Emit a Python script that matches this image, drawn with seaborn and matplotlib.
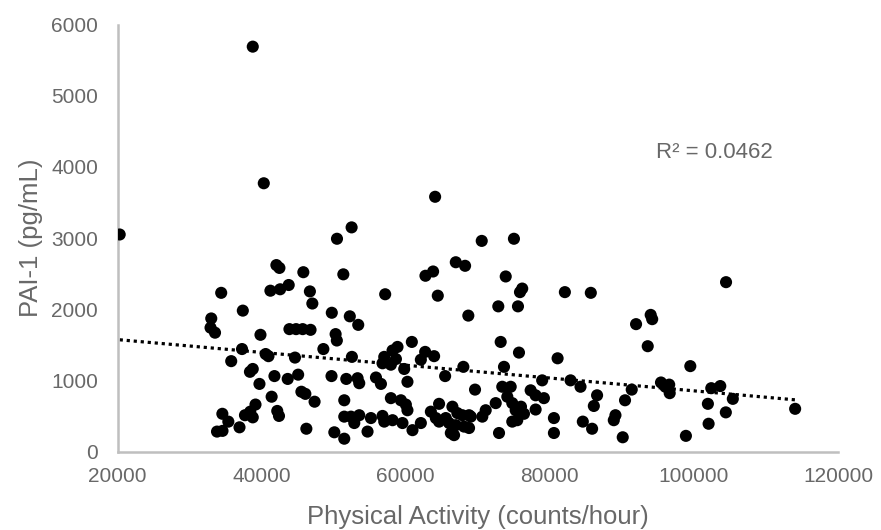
import numpy as np
import pandas as pd
import matplotlib
matplotlib.use("Agg")
import matplotlib.pyplot as plt
import seaborn as sns

# Physical activity (counts/hour)
activity = [
    42050, 42470, 45790, 51340, 34390, 41220, 42570, 43760, 46700, 47040,
    37390, 49740, 52240, 33010, 32910, 33530, 39840, 43860, 44780, 45700,
    46790, 50270, 50440, 37280, 35780, 40560, 40950, 44630, 48570, 38770,
    38380, 41780, 43620, 45070, 49700, 51750, 39700, 45520, 46070, 47350,
    41390, 51470, 39150, 38420, 37690, 38770, 42170, 42410, 34550, 35380,
    33810, 34570, 36930, 46210, 51470, 50090, 51470,
    66950, 68240, 62740, 63800, 73880, 57150, 64450, 72850, 75580, 68690,
    73180, 75720, 73640, 60850, 58860, 58170, 57020, 56780, 58640, 57940,
    52530, 62700, 63940, 62100, 59790, 60240, 68000, 65470, 53320, 53550,
    55870, 56560, 69620, 73400, 74570, 74100, 74790, 75260, 57940, 59330,
    60020, 60240, 72490, 71100, 70630, 64630, 63490, 64180, 64630, 66480,
    67170, 67860, 68790, 69030, 65560, 66020, 66950, 68100, 68790, 66260,
    66710, 53550, 52400, 52860, 55170, 56780, 57020, 58170, 59550, 60940,
    62100, 54700, 72950, 74790, 75480, 64080, 50460, 52490, 70550, 75020,
    53410,
    76170, 75860, 82090, 85690, 91970, 94000, 94210, 93590, 81080, 78940,
    82880, 84260, 86560, 86110, 90440, 91370, 95430, 96570, 96640, 96040,
    77340, 78030, 79180, 76000, 76410, 78030, 80570, 80570, 84580, 85870,
    89110, 88880, 90120,
    104460, 99500, 102410, 103660, 101940, 105400, 104430, 102040, 98890, 114050,
    38770, 40300, 20300,
]

# PAI-1 (pg/mL)
pai1 = [
    2620, 2580, 2520, 2490, 2230, 2260, 2280, 2340, 2250, 2080,
    1980, 1950, 1900, 1870, 1740, 1670, 1640, 1720, 1720, 1720,
    1710, 1650, 1560, 1440, 1270, 1370, 1340, 1320, 1440, 1160,
    1120, 1060, 1020, 1080, 1060, 1020, 950, 840, 810, 700,
    770, 720, 660, 560, 510, 480, 570, 500, 530, 420,
    280, 290, 340, 320, 490, 270, 180,
    2660, 2610, 2470, 2530, 2460, 2210, 2190, 2040, 2040, 1910,
    1540, 1390, 1190, 1540, 1470, 1420, 1330, 1240, 1300, 1220,
    1330, 1400, 1340, 1290, 1160, 980, 1190, 1060, 1030, 960,
    1040, 950, 870, 910, 910, 770, 680, 580, 750, 720,
    660, 580, 680, 580, 490, 670, 560, 470, 420, 630,
    540, 510, 510, 490, 470, 400, 370, 350, 330, 260,
    230, 510, 490, 400, 470, 500, 420, 440, 400, 300,
    400, 280, 260, 420, 440, 3580, 2990, 3150, 2960, 2990,
    1780,
    2290, 2240, 2240, 2230, 1790, 1920, 1860, 1480, 1310, 1000,
    1000, 910, 790, 640, 720, 870, 970, 940, 820, 910,
    860, 790, 750, 630, 530, 590, 470, 260, 420, 320,
    510, 440, 200,
    2380, 1200, 890, 920, 670, 740, 550, 390, 220, 600,
    5690, 3770, 3050,
]

x_ticks = [20000, 40000, 60000, 80000, 100000, 120000]
y_ticks = [0, 1000, 2000, 3000, 4000, 5000, 6000]
r2_label = "R² = 0.0462"
x_title = "Physical Activity (counts/hour)"
y_title = "PAI-1 (pg/mL)"

df = pd.DataFrame({"activity": activity, "pai1": pai1})

sns.set_style("white")
plt.rcParams["font.family"] = ["Liberation Sans", "DejaVu Sans"]

fig = plt.figure(figsize=(8.81, 5.30), dpi=100)
ax = fig.add_axes([0.1334, 0.1481, 0.8178, 0.8055])

sns.scatterplot(data=df, x="activity", y="pai1", ax=ax, color="black",
                s=76, edgecolor="none", linewidth=0, zorder=3)
sns.regplot(data=df, x="activity", y="pai1", ax=ax, scatter=False, ci=None,
            line_kws=dict(color="black", lw=2.3, linestyle=(0, (1, 1.2)),
                          zorder=2))

ax.set_xlim(20000, 120000)
ax.set_ylim(0, 6000)
ax.set_xticks(x_ticks)
ax.set_yticks(y_ticks)
ax.set_xticklabels([str(v) for v in x_ticks])
ax.set_yticklabels([str(v) for v in y_ticks])

grey = "#686868"
ax.tick_params(axis="x", length=0, pad=11, labelsize=15, labelcolor=grey)
ax.tick_params(axis="y", length=0, pad=14, labelsize=15, labelcolor=grey)

for side in ["top", "right"]:
    ax.spines[side].set_visible(False)
for side in ["left", "bottom"]:
    ax.spines[side].set_color("#BFBFBF")
    ax.spines[side].set_linewidth(1.8)

ax.set_xlabel(x_title, fontsize=18.5, color=grey, labelpad=14)
ax.set_ylabel(y_title, fontsize=18.5, color=grey, labelpad=6)

ax.text(0.829, 0.70, r2_label, transform=ax.transAxes, ha="center",
        va="center", fontsize=16, color=grey)

fig.savefig("out.png", dpi=100)
